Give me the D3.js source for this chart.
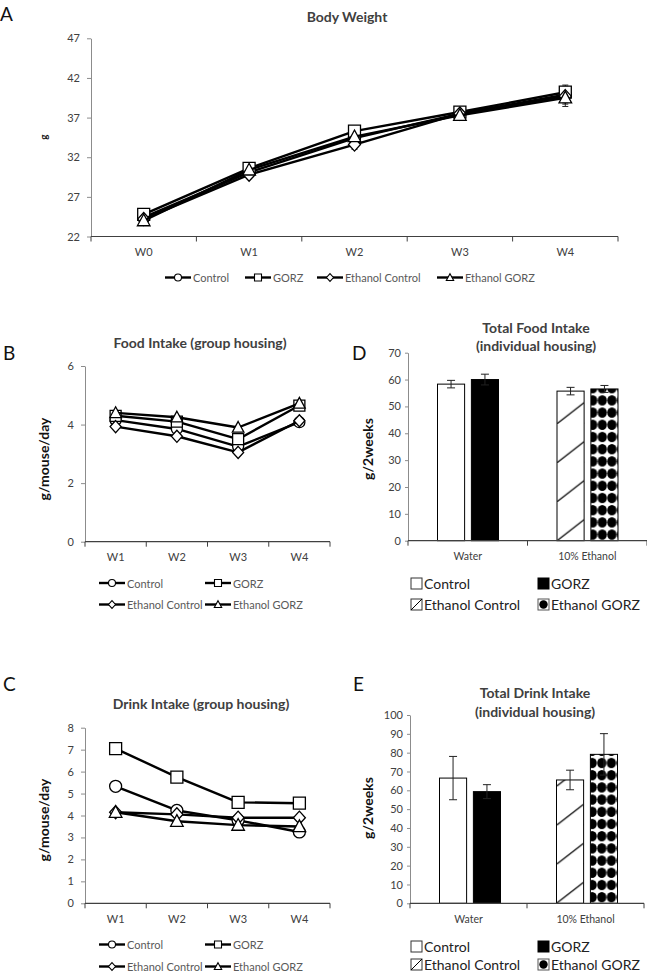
<!DOCTYPE html>
<html><head><meta charset="utf-8">
<script src="https://cdn.jsdelivr.net/npm/d3@7"></script>
<style>
body{margin:0;background:#fff}
svg{display:block}
text{font-family:Lato,"Open Sans",sans-serif}
</style>
</head><body>
<svg id="chart" width="647" height="975"></svg>
<script>
// ---------------- DATA ----------------
const seriesNames = ["Control", "GORZ", "Ethanol Control", "Ethanol GORZ"];
const seriesShapes = ["circle", "square", "diamond", "triangle"];

// A: Body weight
const weeksA = ["W0", "W1", "W2", "W3", "W4"];
const bwTicks = [22, 27, 32, 37, 42, 47];
const bwControl = [24.4, 30.1, 34.4, 37.5, 39.9];
const bwGORZ = [24.8, 30.6, 35.3, 37.7, 40.2];
const bwEthControl = [24.2, 29.8, 33.6, 37.5, 39.7];
const bwEthGORZ = [24.0, 30.4, 34.6, 37.3, 39.5];
const bwErrControl = [0.4, 0.5, 0.6, 0.6, 1.0];
const bwErrGORZ = [0.4, 0.5, 0.6, 0.6, 0.9];
const bwErrEthControl = [0.4, 0.5, 0.6, 0.6, 1.0];
const bwErrEthGORZ = [0.4, 0.5, 0.6, 0.6, 1.1];

// B: Food intake (group housing)
const weeksB = ["W1", "W2", "W3", "W4"];
const fiTicks = [0, 2, 4, 6];
const fiControl = [4.15, 3.85, 3.25, 4.08];
const fiGORZ = [4.3, 4.1, 3.5, 4.65];
const fiEthControl = [3.93, 3.6, 3.05, 4.13];
const fiEthGORZ = [4.4, 4.25, 3.9, 4.72];

// C: Drink intake (group housing)
const weeksC = ["W1", "W2", "W3", "W4"];
const diTicks = [0, 1, 2, 3, 4, 5, 6, 7, 8];
const diControl = [5.33, 4.23, 3.78, 3.25];
const diGORZ = [7.05, 5.75, 4.6, 4.56];
const diEthControl = [4.15, 4.05, 3.9, 3.9];
const diEthGORZ = [4.15, 3.74, 3.56, 3.5];

// D: Total food intake (individual housing)
const barGroups = ["Water", "10% Ethanol"];
const barGroupOf = [0, 0, 1, 1];
const tfTicks = [0, 10, 20, 30, 40, 50, 60, 70];
const tfMeans = [58.3, 60.0, 55.7, 56.5];
const tfErr = [1.4, 2.0, 1.4, 1.3];

// E: Total drink intake (individual housing)
const tdTicks = [0, 10, 20, 30, 40, 50, 60, 70, 80, 90, 100];
const tdMeans = [66.5, 59.3, 65.5, 79.1];
const tdErr = [11.5, 3.7, 5.2, 11.0];

// ---------------- DRAWING ----------------
const svg = d3.select("#chart");
const defs = svg.append("defs");
const TXT = "#404040", LEG = "#595959", YAX = "#8c8c8c", XAX = "#404040";

function shapePath(type, s) {
  const h = s / 2;
  if (type === "circle") return d3.symbol(d3.symbolCircle, Math.PI * h * h)();
  if (type === "square") return `M${-h},${-h}H${h}V${h}H${-h}Z`;
  if (type === "diamond") return `M0,${-h * 1.1}L${h},0L0,${h * 1.1}L${-h},0Z`;
  return `M0,${-h * 1.1}L${h * 1.05},${h * 0.85}L${-h * 1.05},${h * 0.85}Z`;
}

function panelLetter(t, x, y) {
  svg.append("text").attr("x", x).attr("y", y).attr("dominant-baseline", "central")
    .attr("font-size", 19).attr("fill", "#111").text(t);
}
function title(lines, cx, ys) {
  lines.forEach((l, i) => svg.append("text").attr("x", cx).attr("y", ys[i])
    .attr("text-anchor", "middle").attr("dominant-baseline", "central")
    .attr("font-size", 14).attr("font-weight", "bold").attr("fill", TXT).text(l));
}
function yLabel(t, x, y, size) {
  svg.append("text").attr("transform", `translate(${x},${y}) rotate(-90)`)
    .attr("text-anchor", "middle").attr("dominant-baseline", "central")
    .attr("font-size", size).attr("font-weight", "bold").attr("fill", "#111").text(t);
}

function drawYAxis(y, x0, ticks, tickSize, pad, fs) {
  const g = svg.append("g").attr("transform", `translate(${x0},0)`)
    .call(d3.axisLeft(y).tickValues(ticks).tickFormat(d3.format("d"))
      .tickSize(tickSize).tickPadding(pad).tickSizeOuter(0));
  g.select(".domain").attr("stroke", YAX);
  g.selectAll(".tick line").attr("stroke", YAX);
  g.selectAll(".tick text").attr("font-size", fs).attr("fill", TXT)
    .style("font-family", "Lato, 'Open Sans', sans-serif");
}
function drawXAxis(x, cats, yBase, fs, labelDy) {
  const [a, b] = x.range();
  svg.append("line").attr("x1", a).attr("x2", b).attr("y1", yBase).attr("y2", yBase)
    .attr("stroke", XAX).attr("stroke-width", 1.2);
  const bounds = cats.map(c => x(c)).concat([b]);
  bounds.forEach(bx => svg.append("line").attr("x1", bx).attr("x2", bx)
    .attr("y1", yBase).attr("y2", yBase + 5).attr("stroke", XAX));
  cats.forEach(c => svg.append("text").attr("x", x(c) + x.bandwidth() / 2).attr("y", yBase + labelDy)
    .attr("text-anchor", "middle").attr("dominant-baseline", "central")
    .attr("font-size", fs).attr("fill", TXT).text(c));
}

function linePanel(cfg) {
  const x = d3.scaleBand().domain(cfg.cats).range([cfg.x0, cfg.x1]);
  const y = d3.scaleLinear().domain(cfg.domain).range([cfg.yBot, cfg.yTop]);
  drawYAxis(y, cfg.x0, cfg.ticks, 4, 7, 11);
  drawXAxis(x, cfg.cats, cfg.yBot, 11, 15);
  const cx = c => x(c) + x.bandwidth() / 2;
  const line = d3.line().x((d, i) => cx(cfg.cats[i])).y(d => y(d));
  cfg.series.forEach((vals, si) => {
    const errs = cfg.errs ? cfg.errs[si] : null;
    if (errs) {
      vals.forEach((v, i) => {
        const X = cx(cfg.cats[i]);
        svg.append("path").attr("fill", "none").attr("stroke", "#222").attr("stroke-width", 1)
          .attr("d", `M${X},${y(v + errs[i])}V${y(v - errs[i])}M${X - 3},${y(v + errs[i])}H${X + 3}M${X - 3},${y(v - errs[i])}H${X + 3}`);
      });
    }
  });
  cfg.series.forEach((vals, si) => {
    svg.append("path").datum(vals).attr("d", line).attr("fill", "none")
      .attr("stroke", "#000").attr("stroke-width", 2.4).attr("stroke-linejoin", "round");
    vals.forEach((v, i) => svg.append("path")
      .attr("transform", `translate(${cx(cfg.cats[i])},${y(v)})`)
      .attr("d", shapePath(seriesShapes[si], cfg.ms))
      .attr("fill", "#fff").attr("stroke", "#000").attr("stroke-width", 1.3));
  });
  cfg.legend.forEach(([si, lx, ly]) => {
    svg.append("line").attr("x1", lx).attr("x2", lx + 26).attr("y1", ly).attr("y2", ly)
      .attr("stroke", "#000").attr("stroke-width", 2.4);
    svg.append("path").attr("transform", `translate(${lx + 13},${ly})`)
      .attr("d", shapePath(seriesShapes[si], 7)).attr("fill", "#fff").attr("stroke", "#000").attr("stroke-width", 1.1);
    svg.append("text").attr("x", lx + 28).attr("y", ly).attr("dominant-baseline", "central")
      .attr("font-size", 11).attr("fill", LEG).text(seriesNames[si]);
  });
}

let patId = 0;
function fillFor(si, bx, bw, yBase) {
  if (si === 0) return "#fff";
  if (si === 1) return "#000";
  const id = "p" + (patId++);
  if (si === 2) {
    const p = defs.append("pattern").attr("id", id).attr("patternUnits", "userSpaceOnUse")
      .attr("x", bx).attr("y", yBase).attr("width", bw).attr("height", 39);
    p.append("rect").attr("width", bw).attr("height", 39).attr("fill", "#fff");
    p.append("line").attr("x1", 0).attr("y1", 39).attr("x2", bw).attr("y2", 18)
      .attr("stroke", "#000").attr("stroke-width", 1.3);
  } else {
    const p = defs.append("pattern").attr("id", id).attr("patternUnits", "userSpaceOnUse")
      .attr("x", bx - 3).attr("y", yBase).attr("width", 9.6).attr("height", 12.2);
    p.append("rect").attr("width", 9.6).attr("height", 12.2).attr("fill", "#fff");
    p.append("ellipse").attr("cx", 4.8).attr("cy", 6.1).attr("rx", 4.6).attr("ry", 5.2).attr("fill", "#000");
  }
  return `url(#${id})`;
}

function barPanel(cfg) {
  const x = d3.scaleBand().domain(barGroups).range([cfg.x0, cfg.x1]);
  const inner = d3.scaleBand().domain([0, 1]).range([29.5, 90.5]).paddingInner(0.2);
  const y = d3.scaleLinear().domain(cfg.domain).range([cfg.yBot, cfg.yTop]);
  drawYAxis(y, cfg.x0, cfg.ticks, 3, 4, 11);
  cfg.means.forEach((v, si) => {
    const g = barGroupOf[si];
    const bx = x(barGroups[g]) + inner(si % 2);
    const bw = inner.bandwidth();
    svg.append("rect").attr("x", bx).attr("y", y(v)).attr("width", bw).attr("height", cfg.yBot - y(v))
      .attr("fill", fillFor(si, bx, bw, cfg.yBot)).attr("stroke", "#000").attr("stroke-width", 1);
    const X = bx + bw / 2, e = cfg.errs[si];
    svg.append("path").attr("fill", "none").attr("stroke", "#222").attr("stroke-width", 1)
      .attr("d", `M${X},${y(v + e)}V${y(v - e)}M${X - 4},${y(v + e)}H${X + 4}M${X - 4},${y(v - e)}H${X + 4}`);
  });
  drawXAxis(x, barGroups, cfg.yBot, 10.5, 15.5);
  // legend
  const lx = [411, 538], rows = cfg.legendRows;
  seriesNames.forEach((n, si) => {
    const X = lx[si % 2], Y = rows[Math.floor(si / 2)];
    const r = svg.append("rect").attr("x", X).attr("y", Y - 5.5).attr("width", 11).attr("height", 11)
      .attr("stroke-width", 1);
    if (si === 0) r.attr("fill", "#fff").attr("stroke", "#333");
    if (si === 1) r.attr("fill", "#000").attr("stroke", "#000");
    if (si === 2) {
      r.attr("fill", "#fff").attr("stroke", "#333");
      svg.append("line").attr("x1", X).attr("y1", Y + 5.5).attr("x2", X + 11).attr("y2", Y - 5.5)
        .attr("stroke", "#000").attr("stroke-width", 1);
    }
    if (si === 3) {
      r.attr("fill", "#fff").attr("stroke", "#555");
      svg.append("circle").attr("cx", X + 5.5).attr("cy", Y).attr("r", 4.2).attr("fill", "#000");
    }
    svg.append("text").attr("x", X + 13).attr("y", Y).attr("dominant-baseline", "central")
      .attr("font-size", 14).attr("fill", "#222").text(n);
  });
}

// Panel A
panelLetter("A", 0, 13);
title(["Body Weight"], 347, [16]);
yLabel("g", 43, 137, 10);
linePanel({
  cats: weeksA, domain: [22, 47], ticks: bwTicks, x0: 91, x1: 618, yTop: 38.3, yBot: 236.5, ms: 12,
  series: [bwControl, bwGORZ, bwEthControl, bwEthGORZ],
  errs: [bwErrControl, bwErrGORZ, bwErrEthControl, bwErrEthGORZ],
  legend: [[0, 165, 277.5], [1, 245, 277.5], [2, 317, 277.5], [3, 437, 277.5]]
});

// Panel B
panelLetter("B", 3, 352);
title(["Food Intake (group housing)"], 200, [342]);
yLabel("g/mouse/day", 43, 459, 14);
linePanel({
  cats: weeksB, domain: [0, 6], ticks: fiTicks, x0: 85, x1: 330, yTop: 366, yBot: 541.7, ms: 11,
  series: [fiControl, fiGORZ, fiEthControl, fiEthGORZ],
  legend: [[0, 99, 583], [1, 205, 583], [2, 99, 604.5], [3, 205, 604.5]]
});

// Panel C
panelLetter("C", 3, 683);
title(["Drink Intake (group housing)"], 201, [703]);
yLabel("g/mouse/day", 43, 820, 14);
linePanel({
  cats: weeksC, domain: [0, 8], ticks: diTicks, x0: 85, x1: 330, yTop: 727.7, yBot: 903.3, ms: 12,
  series: [diControl, diGORZ, diEthControl, diEthGORZ],
  legend: [[0, 99, 944.5], [1, 205, 944.5], [2, 99, 966.5], [3, 205, 966.5]]
});

// Panel D
panelLetter("D", 352, 352);
title(["Total Food Intake", "(individual housing)"], 536, [327, 345]);
yLabel("g/2weeks", 367, 449, 14);
barPanel({
  domain: [0, 70], ticks: tfTicks, x0: 408, x1: 647, yTop: 352.7, yBot: 540.7,
  means: tfMeans, errs: tfErr, legendRows: [583.5, 604.5]
});

// Panel E
panelLetter("E", 353, 683);
title(["Total Drink Intake", "(individual housing)"], 535, [692, 711.5]);
yLabel("g/2weeks", 367, 808, 14);
barPanel({
  domain: [0, 100], ticks: tdTicks, x0: 410, x1: 644, yTop: 715, yBot: 903.3,
  means: tdMeans, errs: tdErr, legendRows: [946.5, 964.5]
});
</script>
</body></html>
